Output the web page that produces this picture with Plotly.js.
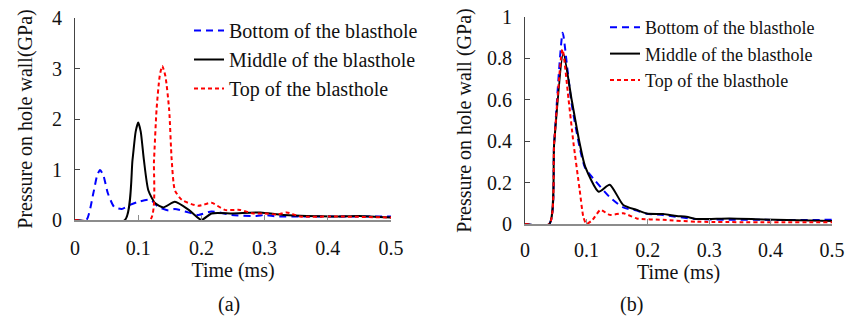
<!DOCTYPE html>
<html>
<head>
<meta charset="utf-8">
<script src="https://cdn.plot.ly/plotly-3.0.1.min.js"></script>
<style>html,body{margin:0;padding:0;background:#fff;}#chart{width:856px;height:332px;}</style>
</head>
<body>
<div id="chart"></div>
<script>
// ---- Panel (a) ----
const aBottomT = [0, 0.018, 0.029, 0.035, 0.0396, 0.045, 0.052, 0.062, 0.074, 0.087, 0.1, 0.119, 0.132, 0.148, 0.158, 0.174, 0.195, 0.216, 0.248, 0.287, 0.3, 0.32, 0.356, 0.4, 0.45, 0.5];
const aBottomP = [0, 0, 0.53, 0.88, 0.99, 0.88, 0.53, 0.26, 0.22, 0.3, 0.36, 0.4, 0.26, 0.19, 0.22, 0.17, 0.1, 0.17, 0.1, 0.08, 0.1, 0.07, 0.07, 0.07, 0.07, 0.07];
const aMiddleT = [0, 0.079, 0.091, 0.096, 0.1, 0.104, 0.109, 0.116, 0.127, 0.14, 0.158, 0.18, 0.2, 0.216, 0.25, 0.293, 0.33, 0.41, 0.45, 0.5];
const aMiddleP = [0, 0, 1.19, 1.75, 1.93, 1.75, 1.19, 0.59, 0.33, 0.25, 0.36, 0.2, 0.0, 0.13, 0.13, 0.15, 0.1, 0.07, 0.08, 0.05];
const aTopT = [0, 0.1187, 0.125, 0.129, 0.134, 0.138, 0.143, 0.149, 0.153, 0.158, 0.169, 0.195, 0.216, 0.237, 0.261, 0.282, 0.3, 0.32, 0.335, 0.356, 0.41, 0.5];
const aTopP = [0, 0, 1.19, 2.18, 2.85, 3.05, 2.85, 2.18, 1.19, 0.59, 0.4, 0.28, 0.34, 0.2, 0.2, 0.13, 0.13, 0.11, 0.15, 0.07, 0.07, 0.05];

// ---- Panel (b) ----
const bBottomT = [0, 0.0396, 0.0475, 0.0614, 0.069, 0.076, 0.089, 0.098, 0.114, 0.138, 0.16, 0.182, 0.198, 0.225, 0.28, 0.39, 0.5];
const bBottomP = [0, 0, 0.39, 0.924, 0.75, 0.58, 0.37, 0.27, 0.21, 0.13, 0.08, 0.065, 0.05, 0.043, 0.024, 0.02, 0.02];
const bMiddleT = [0, 0.0396, 0.0475, 0.0624, 0.076, 0.089, 0.098, 0.12, 0.138, 0.16, 0.182, 0.198, 0.225, 0.247, 0.263, 0.28, 0.333, 0.39, 0.5];
const bMiddleP = [0, 0, 0.39, 0.825, 0.6, 0.39, 0.277, 0.156, 0.19, 0.092, 0.068, 0.051, 0.048, 0.039, 0.035, 0.024, 0.027, 0.022, 0.015];
const bTopT = [0, 0.0396, 0.0475, 0.061, 0.071, 0.079, 0.089, 0.095, 0.1, 0.11, 0.123, 0.138, 0.16, 0.182, 0.225, 0.28, 0.5];
const bTopP = [0, 0, 0.39, 0.844, 0.6, 0.39, 0.165, 0.035, 0, 0.02, 0.068, 0.044, 0.052, 0.027, 0.02, 0.011, 0.008];

const seriesNames = ["Bottom of the blasthole", "Middle of the blasthole", "Top of the blasthole"];
const xTicks = [0, 0.1, 0.2, 0.3, 0.4, 0.5];
const xTitle = "Time (ms)";
const yTitleA = "Pressure on hole wall(GPa)";
const yTitleB = "Pressure on hole wall (GPa)";
const panelLabels = ["(a)", "(b)"];

const FONT = "Liberation Serif";
const FS = 20;
const styles = [
  {color: "#0000ff", width: 2, dash: "7px,5px"},
  {color: "#000000", width: 2, dash: "solid"},
  {color: "#ff0000", width: 2, dash: "4px,3px"}
];

function mk(t, p, i, xa, ya, lg) {
  return {x: t, y: p, type: "scatter", mode: "lines", name: seriesNames[i],
    line: Object.assign({shape: "spline", smoothing: 0.6}, styles[i]),
    xaxis: xa, yaxis: ya, legend: lg};
}

const data = [
  mk(aBottomT, aBottomP, 0, "x", "y", "legend"),
  mk(aMiddleT, aMiddleP, 1, "x", "y", "legend"),
  mk(aTopT, aTopP, 2, "x", "y", "legend"),
  mk(bBottomT, bBottomP, 0, "x2", "y2", "legend2"),
  mk(bMiddleT, bMiddleP, 1, "x2", "y2", "legend2"),
  mk(bTopT, bTopP, 2, "x2", "y2", "legend2")
];

const W = 856, H = 332;
const txt = {family: FONT, size: FS, color: "#111"};
function xaxisDef(d0, d1, anchor, lstand, standoff) {
  return {domain: [d0 / W, d1 / W], anchor: anchor, range: [0, 0.5], tickvals: xTicks,
    ticktext: xTicks.map(v => String(v)), ticks: "inside", ticklen: 5, tickcolor: "#8c8c8c",
    showline: true, linecolor: "#8c8c8c", linewidth: 2, showgrid: false, zeroline: false,
    tickfont: txt, ticklabelstandoff: lstand,
    title: {text: xTitle, font: txt, standoff: standoff}};
}
function yaxisDef(top, bottom, anchor, range, dtick, title, standoff) {
  return {domain: [1 - bottom / H, 1 - top / H], anchor: anchor, range: range, dtick: dtick,
    ticks: "inside", ticklen: 5, tickcolor: "#444", showline: true, linecolor: "#444", linewidth: 1,
    showgrid: false, zeroline: false, tickfont: txt, ticklabelstandoff: 8,
    title: {text: title, font: txt, standoff: standoff}};
}

const layout = {
  width: W, height: H, margin: {l: 0, r: 0, t: 0, b: 0},
  paper_bgcolor: "#fff", plot_bgcolor: "rgba(0,0,0,0)",
  xaxis: xaxisDef(75, 391, "y", 9, 4),
  yaxis: yaxisDef(18, 220, "x", [0, 4], 1, yTitleA, 14),
  xaxis2: xaxisDef(525, 832, "y2", 7, 0),
  yaxis2: yaxisDef(17, 224, "x2", [0, 1], 0.2, yTitleB, 10),
  legend: {x: 189 / W, y: 1 - 11 / H, xanchor: "left", yanchor: "top", bgcolor: "rgba(0,0,0,0)",
    font: txt, tracegroupgap: 0},
  legend2: {x: 605 / W, y: 1 - 9 / H, xanchor: "left", yanchor: "top", bgcolor: "rgba(0,0,0,0)",
    font: {family: FONT, size: 18, color: "#111"}, tracegroupgap: 0},
  annotations: [
    {text: panelLabels[0], x: 216 / W, y: 1 - 318 / H, xref: "paper", yref: "paper", showarrow: false, font: txt},
    {text: panelLabels[1], x: 645 / W, y: 1 - 318 / H, xref: "paper", yref: "paper", showarrow: false, font: txt}
  ],
  showlegend: true
};

Plotly.newPlot("chart", data, layout, {staticPlot: true});
</script>
</body>
</html>
